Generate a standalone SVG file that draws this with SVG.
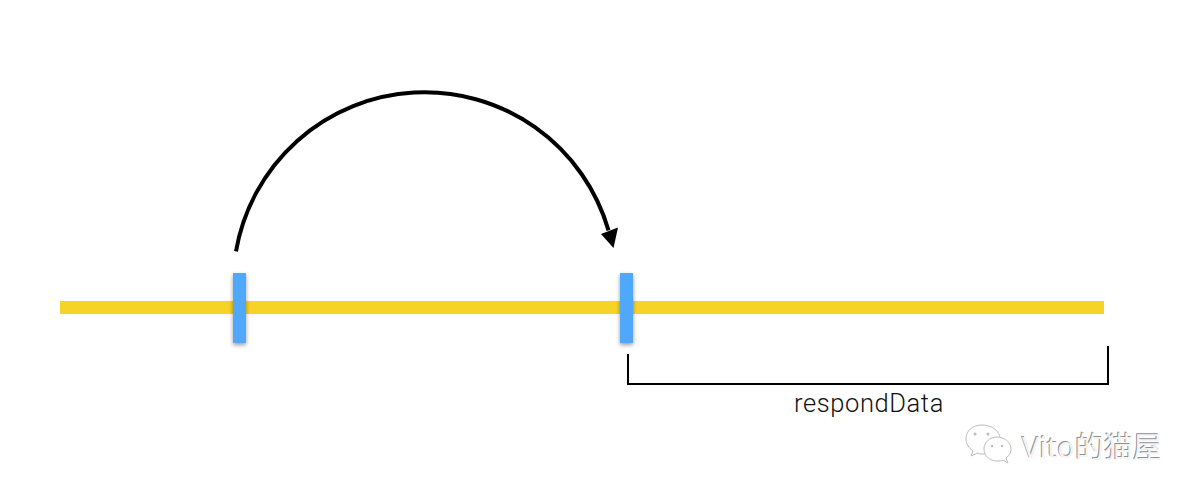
<svg xmlns="http://www.w3.org/2000/svg" width="1198" height="498" viewBox="0 0 1198 498">
  <style>
    .tick { fill: #4fa8fb; filter: url(#sh); }
    .bracket { fill: none; stroke: #000; stroke-width: 2; }
    .label { font-family: Roboto, "Liberation Sans", Arial, sans-serif; font-weight: 300; font-size: 25.5px; letter-spacing: 0.6px; fill: #111; }
    .wm { font-family: "Noto Sans", "Noto Sans CJK SC", sans-serif; font-size: 29px; }
    .bub { fill: #fff; stroke: #bdbdbd; stroke-width: 1; }
  </style>
  <defs>
    <filter id="sh" x="-60%" y="-10%" width="220%" height="125%">
      <feDropShadow dx="0" dy="2" stdDeviation="2" flood-color="#000" flood-opacity="0.4"/>
    </filter>
  </defs>
  <rect width="1198" height="498" fill="#fff"/>
  <g id="timeline"><rect x="60" y="301" width="1044" height="13" fill="#f5d327"/></g>
  <g id="tick-start"><rect class="tick" x="233" y="273" width="13" height="70"/></g>
  <g id="tick-end"><rect class="tick" x="620" y="273" width="13" height="70"/></g>
  <g id="connectors">
    <path d="M236 252 A191.4 191.4 0 0 1 608.5 231" fill="none" stroke="#000" stroke-width="4" transform="translate(0 -0.6)"/>
    <polygon points="613.5,248 601,234 618,227.5" fill="#000"/>
    <path class="bracket" d="M628 354 V384 H1108 V346"/>
  </g>
  <g id="respondData"><text class="label" x="794" y="412">respondData</text></g>
  <g id="watermark">
    <path class="bub" d="M982 425 C972 425 966 431 966 439 C966 444 969 448 973 451 L971 456 L978 453 C980 454 982 454 985 454 C995 454 1000 447 1000 439 C1000 431 992 425 982 425 Z"/>
    <path class="bub" d="M997 437 C990 437 984 442 984 449 C984 456 990 461 997 461 C999 461 1001 461 1003 460 L1008 463 L1006 458 C1009 456 1011 453 1011 449 C1011 442 1004 437 997 437 Z"/>
    <circle cx="975" cy="434" r="1.5" fill="#bbb"/><circle cx="988" cy="434" r="1.5" fill="#bbb"/>
    <circle cx="992" cy="446" r="1.2" fill="#bbb"/><circle cx="1002" cy="446" r="1.2" fill="#bbb"/>
    <text class="wm" x="1021" y="457" fill="#8f8f8f">Vito的猫屋</text>
    <text class="wm" x="1022" y="457.5" fill="#f4f4f4">Vito的猫屋</text>
  </g>
</svg>
